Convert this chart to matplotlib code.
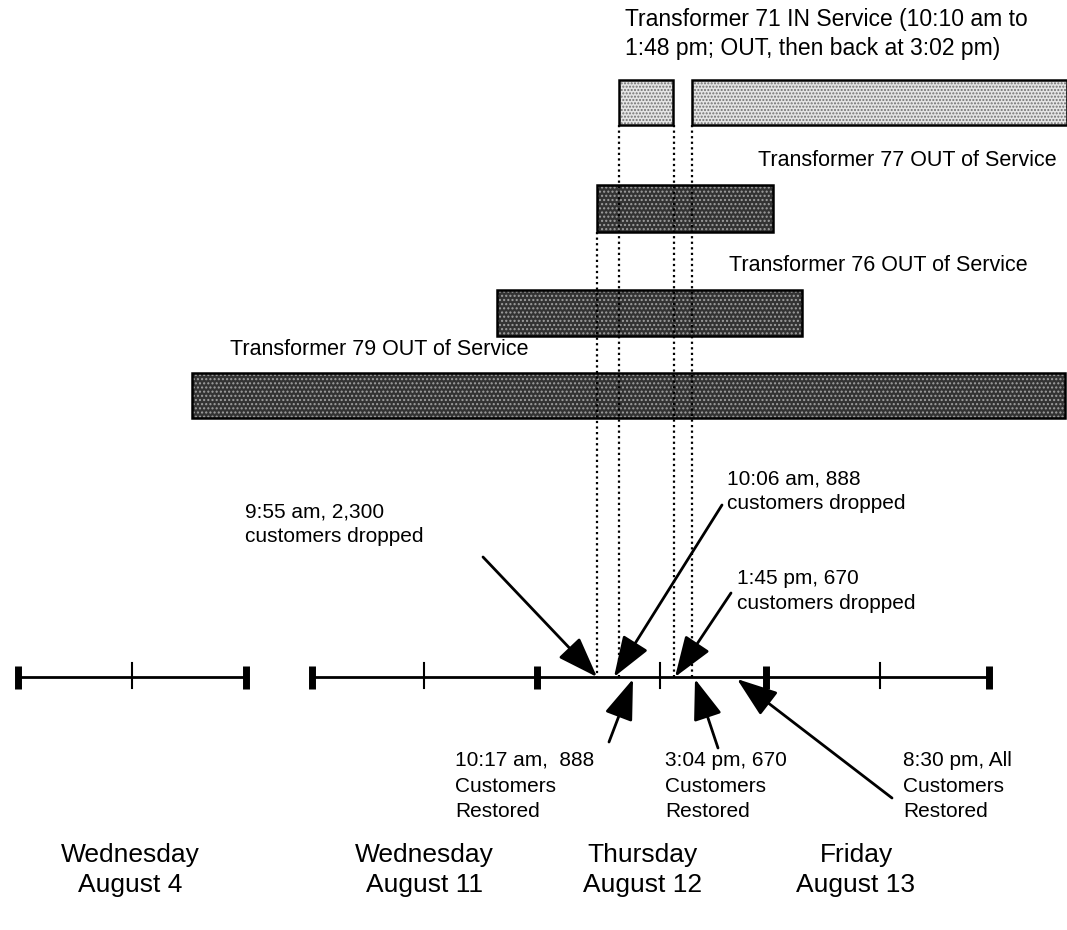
import matplotlib
matplotlib.use('Agg')
import matplotlib.pyplot as plt
from matplotlib.patches import Rectangle

plt.rcParams['font.family'] = ['Liberation Sans', 'DejaVu Sans']

# Schematic timeline units (the original diagram is not to scale)
day_names = ['Wednesday\nAugust 4', 'Wednesday\nAugust 11', 'Thursday\nAugust 12', 'Friday\nAugust 13']
day_label_x = [130, 424, 643, 856]
segments = [(18, 246), (312, 989)]
day_bounds = [18, 246, 312, 537, 766, 989]
mid_ticks = [132, 424, 660, 880]

# Transformer outage bars
t71_spans = [(619, 673), (692, 1067)]
t77_spans = [(597, 773)]
t76_spans = [(497, 802)]
t79_spans = [(192, 1065)]
bar_rows = [(80, 125), (185, 232), (290, 336), (373, 418)]

# Event markers on Thursday (dotted guide lines)
event_x = [597, 619, 674, 692]
event_top = [232, 125, 125, 125]

# Annotations: text, text position, arrow start, arrow tip
notes = [
    ('9:55 am, 2,300\ncustomers dropped', (245, 524), (483, 557), (597, 677)),
    ('10:06 am, 888\ncustomers dropped', (727, 491), (722, 505), (614, 677)),
    ('1:45 pm, 670\ncustomers dropped', (737, 591), (731, 593), (675, 677)),
    ('10:17 am,  888\nCustomers\nRestored', (455, 786), (609, 742), (633, 679)),
    ('3:04 pm, 670\nCustomers\nRestored', (665, 786), (718, 748), (695, 679)),
    ('8:30 pm, All\nCustomers\nRestored', (903, 786), (892, 798), (737, 679)),
]

fig = plt.figure(figsize=(10.67, 9.3), dpi=100)
ax = fig.add_axes([0, 0, 1, 1])
ax.set_xlim(0, 1067)
ax.set_ylim(930, 0)
ax.axis('off')


def draw_bar(x0, x1, top, bottom, dark):
    w = x1 - x0
    h = bottom - top
    if dark:
        ax.add_patch(Rectangle((x0, top), w, h, facecolor='#333333', edgecolor='none', zorder=2))
        ax.add_patch(Rectangle((x0, top), w, h, fill=False, hatch='....', edgecolor='#a0a0a0', linewidth=0, zorder=3))
    else:
        ax.add_patch(Rectangle((x0, top), w, h, facecolor='#e4e4e4', edgecolor='none', zorder=2))
        ax.add_patch(Rectangle((x0, top), w, h, fill=False, hatch='.....', edgecolor='#707070', linewidth=0, zorder=3))
    ax.add_patch(Rectangle((x0, top), w, h, fill=False, edgecolor='black', linewidth=1.8, zorder=4))


for (x0, x1) in t71_spans:
    draw_bar(x0, x1, bar_rows[0][0], bar_rows[0][1], dark=False)
for (x0, x1) in t77_spans:
    draw_bar(x0, x1, bar_rows[1][0], bar_rows[1][1], dark=True)
for (x0, x1) in t76_spans:
    draw_bar(x0, x1, bar_rows[2][0], bar_rows[2][1], dark=True)
for (x0, x1) in t79_spans:
    draw_bar(x0, x1, bar_rows[3][0], bar_rows[3][1], dark=True)

# Bar labels
fs = 15.5
ax.text(625, 34, 'Transformer 71 IN Service (10:10 am to\n1:48 pm; OUT, then back at 3:02 pm)',
        fontsize=16.5, ha='left', va='center', linespacing=1.3)
ax.text(758, 160, 'Transformer 77 OUT of Service', fontsize=fs, ha='left', va='center')
ax.text(729, 265, 'Transformer 76 OUT of Service', fontsize=fs, ha='left', va='center')
ax.text(230, 349, 'Transformer 79 OUT of Service', fontsize=fs, ha='left', va='center')

# Dotted guide lines
for x, top in zip(event_x, event_top):
    ax.plot([x, x], [top, 677], color='black', linestyle=(0, (1, 1.5)), linewidth=1.6, zorder=5)

# Timeline
for (x0, x1) in segments:
    ax.plot([x0, x1], [677, 677], color='black', linewidth=2, zorder=6)
for x in day_bounds:
    ax.plot([x, x], [666, 689], color='black', linewidth=5, solid_capstyle='butt', zorder=6)
for x in mid_ticks:
    ax.plot([x, x], [663, 688], color='black', linewidth=1.5, zorder=6)

# Event annotations
for text, (tx, ty), start, tip in notes:
    n_lines = text.count('\n') + 1
    ax.text(tx, ty, text, fontsize=15, ha='left', va='center',
            linespacing=1.45 if n_lines == 3 else 1.35)
    ax.annotate('', xy=tip, xytext=start,
                arrowprops=dict(arrowstyle='-|>,head_length=1.4,head_width=0.5',
                                color='black', linewidth=2, mutation_scale=18,
                                shrinkA=0, shrinkB=0), zorder=7)

# Day labels
for name, x in zip(day_names, day_label_x):
    ax.text(x, 870, name, fontsize=19, ha='center', va='center', linespacing=1.3)

fig.savefig('out.png', dpi=100)
